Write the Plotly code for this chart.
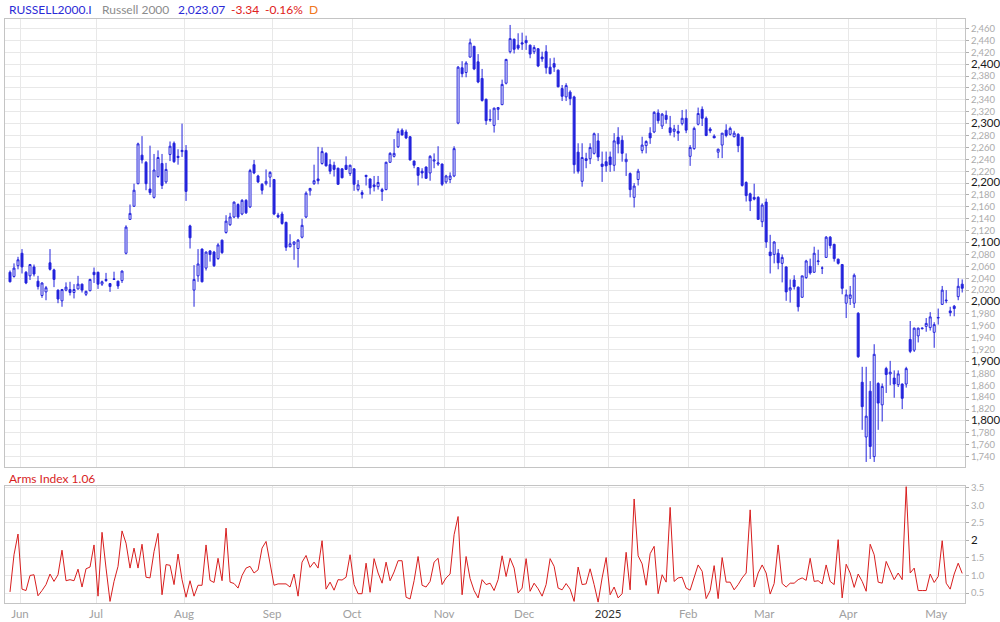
import pandas as pd
import plotly.graph_objects as go

# ---------------- data ----------------
holidays = ["2024-06-19", "2024-07-04", "2024-09-02", "2024-11-28", "2024-12-25",
            "2025-01-01", "2025-01-09", "2025-01-20", "2025-02-17"]
dates = [d for d in pd.bdate_range("2024-05-29", "2025-05-09")
         if d.strftime("%Y-%m-%d") not in holidays]

opens = [
    2050, 2043, 2061, 2082, 2050, 2044, 2059, 2035, 2011, 2017,
    2066, 2054, 2020, 2002, 2020, 2021, 2016, 2022, 2030, 2013,
    2019, 2050, 2050, 2030, 2038, 2031, 2039, 2035, 2036, 2082,
    2139, 2161, 2199, 2247, 2235, 2190, 2176, 2211, 2233, 2202,
    2248, 2267, 2243, 2253, 2255, 2128, 2020, 2044, 2089, 2057,
    2086, 2084, 2073, 2104, 2117, 2130, 2143, 2164, 2148, 2171,
    2160, 2231, 2212, 2198, 2199, 2210, 2206, 2146, 2148, 2134,
    2093, 2097, 2090, 2109, 2143, 2187, 2199, 2207, 2233, 2250,
    2231, 2230, 2225, 2224, 2230, 2216, 2224, 2189, 2184, 2213,
    2207, 2197, 2194, 2186, 2189, 2235, 2245, 2261, 2289, 2286,
    2278, 2237, 2226, 2220, 2227, 2217, 2237, 2232, 2232, 2202,
    2206, 2212, 2301, 2394, 2386, 2412, 2430, 2404, 2376, 2341,
    2306, 2297, 2324, 2332, 2368, 2421, 2442, 2432, 2436, 2440,
    2432, 2421, 2426, 2412, 2421, 2395, 2401, 2390, 2359, 2345,
    2353, 2345, 2252, 2203, 2241, 2241, 2250, 2271, 2232, 2236,
    2244, 2230, 2277, 2272, 2236, 2216, 2176, 2206, 2255, 2263,
    2284, 2286, 2318, 2296, 2314, 2293, 2287, 2287, 2300, 2309,
    2245, 2258, 2299, 2324, 2309, 2291, 2279, 2252, 2264, 2289,
    2282, 2278, 2282, 2277, 2201, 2182, 2176, 2176, 2135, 2168,
    2084, 2080, 2082, 2065, 2059, 2020, 2037, 2025, 2008, 2041,
    2060, 2050, 2068, 2057, 2075, 2109, 2097, 2072, 2063, 1998,
    2006, 1998, 1981, 1865, 1773, 1850, 1740, 1863, 1827, 1888,
    1879, 1872, 1861, 1862, 1862, 1937, 1919, 1943, 1955, 1959,
    1957, 1949, 1973, 1996, 2002, 1985, 1993, 2009, 2030,
]
highs = [
    2053, 2065, 2076, 2089, 2052, 2064, 2063, 2044, 2033, 2027,
    2089, 2056, 2021, 2022, 2033, 2034, 2030, 2044, 2031, 2019,
    2039, 2058, 2051, 2036, 2049, 2032, 2051, 2036, 2053, 2129,
    2164, 2199, 2268, 2279, 2237, 2263, 2249, 2255, 2249, 2234,
    2270, 2270, 2257, 2300, 2264, 2130, 2062, 2089, 2090, 2085,
    2087, 2086, 2099, 2105, 2146, 2150, 2169, 2166, 2173, 2173,
    2224, 2239, 2214, 2200, 2223, 2220, 2207, 2150, 2152, 2135,
    2114, 2102, 2106, 2140, 2186, 2192, 2231, 2261, 2260, 2252,
    2240, 2236, 2226, 2225, 2245, 2231, 2225, 2205, 2188, 2214,
    2208, 2212, 2212, 2192, 2236, 2252, 2274, 2292, 2292, 2290,
    2279, 2238, 2227, 2225, 2228, 2247, 2250, 2262, 2233, 2214,
    2218, 2262, 2397, 2405, 2405, 2443, 2431, 2417, 2392, 2342,
    2324, 2327, 2328, 2374, 2409, 2466, 2443, 2452, 2453, 2448,
    2433, 2432, 2427, 2421, 2432, 2410, 2411, 2391, 2365, 2368,
    2356, 2347, 2267, 2267, 2251, 2267, 2285, 2284, 2253, 2253,
    2253, 2284, 2294, 2280, 2250, 2218, 2200, 2224, 2278, 2272,
    2294, 2321, 2324, 2318, 2322, 2313, 2298, 2298, 2323, 2324,
    2264, 2295, 2327, 2329, 2312, 2294, 2282, 2258, 2284, 2299,
    2295, 2288, 2284, 2278, 2203, 2184, 2199, 2178, 2166, 2174,
    2113, 2102, 2089, 2080, 2060, 2038, 2045, 2026, 2044, 2071,
    2073, 2093, 2088, 2060, 2111, 2111, 2098, 2073, 2064, 2021,
    2027, 2048, 1983, 1891, 1891, 1867, 1929, 1865, 1863, 1891,
    1901, 1885, 1885, 1863, 1891, 1968, 1957, 1957, 1957, 1973,
    1983, 1966, 1989, 2027, 2020, 1992, 1995, 2040, 2038,
]
lows = [
    2033, 2041, 2055, 2048, 2030, 2037, 2043, 2021, 2007, 2003,
    2053, 2025, 1998, 1992, 2018, 2011, 2006, 2021, 2016, 2010,
    2018, 2032, 2022, 2027, 2034, 2017, 2037, 2022, 2032, 2080,
    2138, 2160, 2198, 2233, 2188, 2180, 2174, 2209, 2190, 2199,
    2237, 2234, 2231, 2244, 2170, 2090, 1992, 2034, 2033, 2053,
    2068, 2059, 2071, 2081, 2115, 2128, 2141, 2140, 2146, 2148,
    2158, 2215, 2200, 2181, 2196, 2193, 2146, 2141, 2130, 2086,
    2092, 2071, 2058, 2107, 2141, 2179, 2197, 2198, 2231, 2228,
    2215, 2211, 2197, 2208, 2222, 2212, 2187, 2186, 2174, 2196,
    2181, 2186, 2189, 2170, 2188, 2234, 2243, 2259, 2280, 2274,
    2238, 2225, 2196, 2208, 2207, 2204, 2225, 2229, 2195, 2199,
    2200, 2210, 2299, 2378, 2378, 2411, 2390, 2368, 2337, 2298,
    2303, 2285, 2306, 2331, 2366, 2418, 2418, 2424, 2424, 2424,
    2410, 2417, 2395, 2404, 2384, 2383, 2387, 2361, 2338, 2338,
    2331, 2216, 2216, 2194, 2225, 2232, 2248, 2237, 2202, 2219,
    2219, 2220, 2250, 2236, 2212, 2176, 2159, 2196, 2250, 2250,
    2266, 2284, 2300, 2291, 2300, 2280, 2277, 2271, 2297, 2284,
    2229, 2256, 2297, 2296, 2279, 2284, 2276, 2242, 2242, 2277,
    2280, 2277, 2252, 2194, 2169, 2153, 2171, 2139, 2126, 2091,
    2048, 2065, 2055, 2033, 2002, 1999, 2021, 1984, 2007, 2039,
    2046, 2049, 2062, 2047, 2074, 2090, 2068, 2063, 2013, 1973,
    1995, 1990, 1906, 1785, 1731, 1736, 1731, 1785, 1799, 1847,
    1860, 1839, 1857, 1820, 1856, 1914, 1916, 1932, 1954, 1950,
    1952, 1923, 1962, 1995, 1998, 1976, 1976, 2003, 2016,
]
closes = [
    2034, 2057, 2071, 2059, 2032, 2063, 2047, 2026, 2032, 2024,
    2055, 2038, 2005, 2021, 2025, 2016, 2021, 2030, 2020, 2018,
    2038, 2046, 2030, 2034, 2036, 2026, 2038, 2027, 2052, 2126,
    2149, 2188, 2266, 2239, 2199, 2184, 2222, 2243, 2196, 2223,
    2262, 2236, 2245, 2255, 2186, 2108, 2038, 2064, 2034, 2084,
    2080, 2061, 2096, 2083, 2136, 2143, 2168, 2143, 2171, 2150,
    2221, 2217, 2202, 2188, 2203, 2218, 2148, 2143, 2132, 2092,
    2098, 2101, 2104, 2129, 2183, 2191, 2204, 2204, 2253, 2229,
    2220, 2223, 2198, 2209, 2223, 2230, 2198, 2197, 2181, 2211,
    2192, 2194, 2201, 2189, 2235, 2250, 2250, 2287, 2281, 2276,
    2239, 2230, 2213, 2217, 2208, 2245, 2239, 2234, 2198, 2212,
    2212, 2258, 2395, 2384, 2402, 2436, 2392, 2370, 2339, 2305,
    2307, 2326, 2327, 2366, 2408, 2443, 2425, 2427, 2434, 2436,
    2417, 2428, 2397, 2409, 2394, 2384, 2395, 2362, 2346, 2364,
    2342, 2231, 2220, 2243, 2238, 2260, 2283, 2244, 2228, 2229,
    2231, 2271, 2266, 2250, 2240, 2189, 2195, 2220, 2264, 2270,
    2276, 2319, 2305, 2316, 2307, 2285, 2291, 2284, 2309, 2289,
    2260, 2292, 2317, 2309, 2280, 2288, 2276, 2257, 2284, 2280,
    2292, 2284, 2263, 2196, 2179, 2170, 2173, 2139, 2163, 2101,
    2078, 2101, 2066, 2075, 2017, 2024, 2026, 1992, 2044, 2069,
    2049, 2082, 2069, 2057, 2109, 2095, 2073, 2065, 2023, 2012,
    2012, 2045, 1908, 1824, 1808, 1757, 1912, 1830, 1858, 1878,
    1882, 1862, 1879, 1838, 1888, 1917, 1956, 1956, 1956, 1964,
    1975, 1962, 1974, 2020, 2003, 1982, 1989, 2026.41, 2023.07,
]
arms = [
    0.53, 1.59, 2.18, 0.61, 0.57, 1.00, 1.02, 0.42, 0.57, 0.74,
    1.04, 0.83, 1.02, 1.72, 0.85, 0.88, 0.85, 1.18, 0.67, 1.19,
    1.24, 1.87, 0.41, 2.23, 1.21, 0.26, 0.83, 1.26, 2.27, 1.92,
    1.21, 1.78, 1.21, 1.89, 0.95, 0.93, 1.68, 2.20, 0.45, 1.31,
    1.29, 0.74, 1.61, 0.88, 0.38, 0.85, 0.41, 0.72, 0.72, 1.87,
    0.86, 0.80, 1.49, 0.85, 2.35, 0.81, 0.77, 0.64, 1.00, 1.21,
    1.26, 1.07, 1.16, 1.78, 1.97, 1.30, 0.72, 0.76, 0.76, 0.76,
    0.67, 1.04, 0.41, 1.38, 1.57, 1.23, 1.38, 1.21, 1.99, 0.61,
    0.81, 0.58, 0.88, 0.87, 0.95, 1.59, 0.74, 0.48, 0.48, 1.35,
    0.52, 1.48, 1.07, 0.78, 1.38, 0.85, 1.10, 1.42, 1.42, 0.38,
    0.33, 0.85, 1.54, 0.72, 0.67, 0.83, 1.38, 1.49, 0.74, 0.93,
    1.04, 2.16, 2.68, 0.45, 1.54, 0.91, 0.57, 0.36, 0.88, 0.74,
    0.78, 0.57, 0.88, 1.56, 0.97, 1.49, 1.21, 0.50, 0.64, 1.48,
    0.55, 0.78, 0.62, 0.41, 0.74, 1.48, 1.26, 0.64, 0.59, 0.77,
    0.61, 0.26, 1.24, 0.74, 0.76, 1.19, 0.74, 0.24, 0.93, 1.51,
    0.45, 0.67, 0.36, 0.48, 1.66, 0.59, 3.18, 1.56, 1.33, 0.72,
    1.62, 1.83, 0.48, 1.02, 0.81, 2.94, 0.83, 0.93, 0.95, 0.64,
    0.58, 0.93, 1.30, 1.12, 0.34, 0.57, 1.28, 0.34, 1.51, 0.81,
    0.81, 0.59, 0.74, 0.93, 1.07, 2.87, 0.67, 1.07, 1.30, 1.07,
    0.47, 0.77, 1.87, 0.77, 0.67, 0.78, 0.78, 0.88, 0.93, 0.86,
    1.49, 0.83, 0.85, 0.76, 1.30, 0.83, 0.74, 2.02, 0.36, 1.32,
    1.07, 0.66, 1.04, 0.83, 0.55, 1.89, 1.59, 0.81, 0.78, 1.40,
    1.12, 0.88, 1.07, 0.88, 3.53, 1.07, 1.21, 0.57, 0.57, 0.57,
    1.04, 0.80, 0.97, 1.99, 0.78, 0.61, 1.04, 1.35, 1.06,
]
month_labels = ["Jun", "Jul", "Aug", "Sep", "Oct", "Nov", "Dec", "2025", "Feb", "Mar", "Apr", "May"]
price_ticks = list(range(1740, 2461, 20))
arms_ticks = [0.5, 1.0, 1.5, 2.0, 2.5, 3.0, 3.5]
arms_tick_text = ["0.5", "1.0", "1.5", "2", "2.5", "3.0", "3.5"]

# ---------------- figure ----------------
BLUE = "#2323dc"
RED = "#d81e1e"
GRID = "#e8e8e8"
AXLINE = "#c4c4c4"
FONT = "Lato"

n = len(dates)
x = list(range(n))
date_text = [d.strftime("%Y-%m-%d") for d in dates]

month_pos = [i - 0.5 for i in range(1, n) if dates[i].month != dates[i - 1].month]
month_text = []
for lab in month_labels:
    if lab.isdigit():
        month_text.append(f"<span style='color:#333'>{lab}</span>")
    else:
        month_text.append(lab)

price_text = []
for v in price_ticks:
    s = f"{v:,}"
    if v % 100 == 0:
        s = f"<span style='font-size:11.5px;color:#1a1a1a'>{s}</span>"
    price_text.append(s)

arms_text = []
for v, s in zip(arms_ticks, arms_tick_text):
    if s == "2":
        s = f"<span style='font-size:11.5px;color:#1a1a1a'>{s}</span>"
    arms_text.append(s)

fig = go.Figure()
fig.add_trace(go.Candlestick(
    x=x, open=opens, high=highs, low=lows, close=closes, text=date_text,
    increasing=dict(line=dict(color=BLUE, width=1), fillcolor="white"),
    decreasing=dict(line=dict(color=BLUE, width=1), fillcolor=BLUE),
    whiskerwidth=0, showlegend=False, xaxis="x", yaxis="y", name="RUSSELL2000.I",
))
fig.add_trace(go.Scatter(
    x=x, y=arms, mode="lines", line=dict(color=RED, width=1), text=date_text,
    showlegend=False, xaxis="x2", yaxis="y2", name="Arms Index",
))

W, H = 1000, 622
ML, MR, MT, MB = 5, 35, 19, 19
ph = H - MT - MB
main_bottom = (H - MB - 466.7) / ph
arms_top = (H - MB - 486) / ph

xr = [-1.25, 238.7]
common_x = dict(
    range=xr, tickvals=month_pos, showgrid=True, gridcolor=GRID, gridwidth=1,
    showline=True, linecolor=AXLINE, linewidth=1, mirror=True, ticks="",
    zeroline=False,
)
fig.update_layout(
    width=W, height=H,
    margin=dict(l=ML, r=MR, t=MT, b=MB, autoexpand=False),
    paper_bgcolor="white", plot_bgcolor="white",
    font=dict(family=FONT, size=11, color="#999"),
    showlegend=False,
    xaxis=dict(domain=[0, 1], anchor="y", showticklabels=False,
               rangeslider=dict(visible=False), **common_x),
    xaxis2=dict(domain=[0, 1], anchor="y2", matches="x", ticktext=month_text,
                tickfont=dict(family=FONT, size=11.5, color="#a0a0a0"), **common_x),
    yaxis=dict(domain=[main_bottom, 1], anchor="x", side="right", range=[1723, 2476],
               tickvals=price_ticks, ticktext=price_text,
               tickfont=dict(family=FONT, size=9.5, color="#ababab"),
               showgrid=True, gridcolor=GRID, zeroline=False,
               showline=True, linecolor=AXLINE, mirror=True,
               ticks="outside", ticklen=3, tickcolor="#b0b0b0"),
    yaxis2=dict(domain=[0, arms_top], anchor="x2", side="right", range=[0.215, 3.55],
                tickvals=arms_ticks, ticktext=arms_text,
                tickfont=dict(family=FONT, size=9.5, color="#ababab"),
                showgrid=True, gridcolor=GRID, zeroline=False,
                showline=True, linecolor=AXLINE, mirror=True,
                ticks="outside", ticklen=3, tickcolor="#b0b0b0"),
)


def px_x(p):
    return (p - ML) / (W - ML - MR)


def px_y(p):
    return (H - MB - p) / ph


header = [
    ("RUSSELL2000.I", 7, "#2b2bd6"),
    ("Russell 2000", 100, "#8c8c8c"),
    ("2,023.07", 176, "#2b2bd6"),
    ("-3.34", 229, "#e02020"),
    ("-0.16%", 263, "#e02020"),
    ("D", 307, "#f07820"),
]
for txt, px, col in header:
    fig.add_annotation(text=txt, x=px_x(px), y=px_y(9), xref="paper", yref="paper",
                       xanchor="left", yanchor="middle", showarrow=False,
                       font=dict(family=FONT, size=12, color=col))
fig.add_annotation(text="Arms Index 1.06", x=px_x(7), y=px_y(478), xref="paper", yref="paper",
                   xanchor="left", yanchor="middle", showarrow=False,
                   font=dict(family=FONT, size=12, color="#d81e1e"))

fig.write_html("out.html", config={"displayModeBar": False},
               post_script="document.body.style.margin='0';")
